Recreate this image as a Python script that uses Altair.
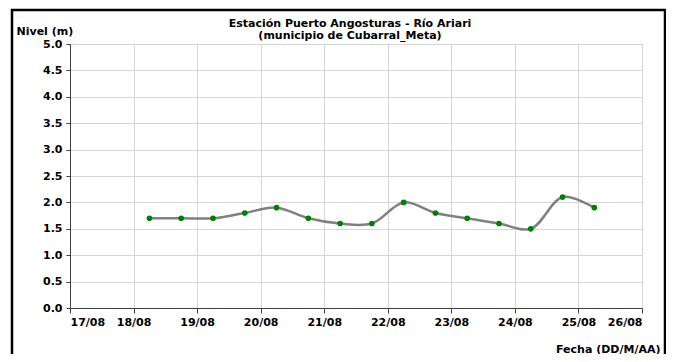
import altair as alt
import pandas as pd

fechas = [
    "2011-08-18T06:00:00Z", "2011-08-18T18:00:00Z",
    "2011-08-19T06:00:00Z", "2011-08-19T18:00:00Z",
    "2011-08-20T06:00:00Z", "2011-08-20T18:00:00Z",
    "2011-08-21T06:00:00Z", "2011-08-21T18:00:00Z",
    "2011-08-22T06:00:00Z", "2011-08-22T18:00:00Z",
    "2011-08-23T06:00:00Z", "2011-08-23T18:00:00Z",
    "2011-08-24T06:00:00Z", "2011-08-24T18:00:00Z",
    "2011-08-25T06:00:00Z",
]
nivel = [1.7, 1.7, 1.7, 1.8, 1.9, 1.7, 1.6, 1.6, 2.0, 1.8, 1.7, 1.6, 1.5, 2.1, 1.9]
dias_eje = [17, 18, 19, 20, 21, 22, 23, 24, 25, 26]
y_ticks = [0.0, 0.5, 1.0, 1.5, 2.0, 2.5, 3.0, 3.5, 4.0, 4.5, 5.0]
titulo = ["Estación Puerto Angosturas - Río Ariari", "(municipio de Cubarral_Meta)"]

df = pd.DataFrame({"fecha": fechas, "nivel": nivel})

FONT = "DejaVu Sans"

x_enc = alt.X(
    "fecha:T",
    scale=alt.Scale(type="utc",
                    domain=[alt.DateTime(year=2011, month=8, date=17, utc=True),
                            alt.DateTime(year=2011, month=8, date=26, utc=True)]),
    axis=alt.Axis(
        values=[alt.DateTime(year=2011, month=8, date=d, utc=True) for d in dias_eje],
        format="%d/%m", title="Fecha (DD/M/AA)",
        titleAnchor="end", titleAlign="right", titleBaseline="middle",
        titleX=590, titleY=41, titleFontSize=11,
        labelFontSize=11, labelPadding=3, tickSize=5,
        grid=True, gridColor="#d6d6d6",
        domainColor="#404040", tickColor="#404040",
    ),
)
y_enc = alt.Y(
    "nivel:Q",
    scale=alt.Scale(domain=[0, 5], nice=False, zero=True),
    axis=alt.Axis(
        values=y_ticks, format=".1f", title="Nivel (m)",
        titleAngle=0, titleAlign="left", titleBaseline="middle",
        titleX=-54, titleY=-13, titleFontSize=11,
        labelFontSize=11, labelPadding=4, tickSize=4,
        grid=True, gridColor="#d6d6d6",
        domainColor="#404040", tickColor="#404040",
    ),
)

base = alt.Chart(df)
linea = base.mark_line(interpolate="catmull-rom", color="#808080", strokeWidth=2.5).encode(x=x_enc, y=y_enc)
puntos = base.mark_circle(color="#008000", size=32, opacity=1).encode(x=x_enc, y=y_enc)

marco = alt.Chart(pd.DataFrame({"a": [0]})).mark_rect(
    fill=None, stroke="black", strokeWidth=2.5, clip=False
).encode(x=alt.value(-58), x2=alt.value(595), y=alt.value(-34), y2=alt.value(340))

tit_df = pd.DataFrame({"t": titulo, "linea": [0, 1]})
titulo_1 = alt.Chart(pd.DataFrame({"t": [titulo[0]]})).mark_text(
    font=FONT, fontWeight="bold", fontSize=11, align="center", baseline="middle", color="black"
).encode(text="t:N", x=alt.value(280), y=alt.value(-20))
titulo_2 = alt.Chart(pd.DataFrame({"t": [titulo[1]]})).mark_text(
    font=FONT, fontWeight="bold", fontSize=11, align="center", baseline="middle", color="black"
).encode(text="t:N", x=alt.value(280), y=alt.value(-8))

chart = alt.layer(linea, puntos, marco, titulo_1, titulo_2).properties(
    width=572, height=264,
    autosize=alt.AutoSizeParams(type="none"),
    padding={"left": 62, "top": 36, "right": 24, "bottom": 46},
).configure_axis(
    labelFont=FONT, titleFont=FONT, labelFontWeight="bold", titleFontWeight="bold",
    labelColor="black", titleColor="black",
).configure_view(stroke="#a0a0a0", strokeWidth=1)

chart.save("out.html", embed_options={"renderer": "svg", "actions": False})
